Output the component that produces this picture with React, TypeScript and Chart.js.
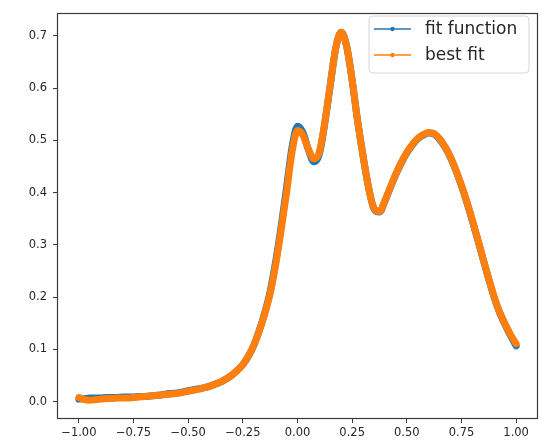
import React, { useEffect, useRef } from "react";
import { Chart, registerables } from "chart.js";

Chart.register(...registerables);

const xValues = [
  -1.0, -0.975, -0.95, -0.925, -0.9, -0.875, -0.85, -0.825, -0.8, -0.775,
  -0.75, -0.725, -0.7, -0.675, -0.65, -0.625, -0.6, -0.575, -0.55, -0.525,
  -0.5, -0.475, -0.45, -0.425, -0.4, -0.375, -0.35, -0.325, -0.3, -0.275,
  -0.25, -0.225, -0.2, -0.175, -0.15, -0.125, -0.1, -0.075, -0.05, -0.025,
  0.0, 0.025, 0.05, 0.075, 0.1, 0.125, 0.15, 0.175, 0.2, 0.225,
  0.25, 0.275, 0.3, 0.325, 0.35, 0.375, 0.4, 0.425, 0.45, 0.475,
  0.5, 0.525, 0.55, 0.575, 0.6, 0.625, 0.65, 0.675, 0.7, 0.725,
  0.75, 0.775, 0.8, 0.825, 0.85, 0.875, 0.9, 0.925, 0.95, 0.975, 1.0,
];

const fitFunction = [
  0.005, 0.006, 0.007, 0.007, 0.007, 0.008, 0.008, 0.008, 0.009, 0.009,
  0.009, 0.01, 0.01, 0.011, 0.012, 0.013, 0.015, 0.016, 0.017, 0.019,
  0.021, 0.023, 0.025, 0.027, 0.03, 0.034, 0.038, 0.044, 0.051, 0.06,
  0.071, 0.087, 0.108, 0.136, 0.17, 0.211, 0.268, 0.335, 0.41, 0.487,
  0.527, 0.515, 0.482, 0.459, 0.474, 0.533, 0.606, 0.677, 0.707, 0.68,
  0.615, 0.537, 0.47, 0.41, 0.369, 0.363, 0.384, 0.41, 0.435, 0.457,
  0.476, 0.491, 0.503, 0.51, 0.514, 0.512, 0.502, 0.487, 0.467, 0.442,
  0.413, 0.381, 0.346, 0.309, 0.271, 0.234, 0.199, 0.17, 0.147, 0.126, 0.107,
];

const bestFit = [
  0.008, 0.004, 0.003, 0.004, 0.005, 0.006, 0.006, 0.007, 0.007, 0.007,
  0.008, 0.009, 0.01, 0.011, 0.012, 0.013, 0.014, 0.015, 0.016, 0.018,
  0.02, 0.022, 0.024, 0.027, 0.03, 0.034, 0.038, 0.044, 0.051, 0.06,
  0.071, 0.087, 0.108, 0.135, 0.168, 0.207, 0.262, 0.328, 0.4, 0.478,
  0.519, 0.51, 0.483, 0.465, 0.478, 0.535, 0.607, 0.677, 0.707, 0.68,
  0.615, 0.537, 0.47, 0.41, 0.37, 0.364, 0.385, 0.411, 0.436, 0.458,
  0.477, 0.492, 0.504, 0.511, 0.515, 0.513, 0.503, 0.488, 0.468, 0.443,
  0.414, 0.382, 0.347, 0.31, 0.272, 0.235, 0.2, 0.171, 0.148, 0.128, 0.111,
];

const xTicks = [-1.0, -0.75, -0.5, -0.25, 0.0, 0.25, 0.5, 0.75, 1.0];
const yTicks = [0.0, 0.1, 0.2, 0.3, 0.4, 0.5, 0.6, 0.7];

const seriesNames = ["fit function", "best fit"];
const seriesColors = ["#1f77b4", "#ff7f0e"];

const FONT = "'DejaVu Sans', sans-serif";
const TEXT = "#262626";
const SPINE = "#3a3a3a";

const fmt = (v: number, d: number) => {
  const s = Math.abs(v).toFixed(d);
  return v < -1e-9 ? "\u2212" + s : s;
};

const boxPlugin = {
  id: "mplBox",
  afterDraw(chart: any) {
    const { ctx, chartArea } = chart;
    ctx.save();
    ctx.strokeStyle = SPINE;
    ctx.lineWidth = 1.2;
    ctx.strokeRect(
      Math.round(chartArea.left) + 0.5,
      Math.round(chartArea.top) + 0.5,
      Math.round(chartArea.right - chartArea.left) - 1,
      Math.round(chartArea.bottom - chartArea.top) - 1
    );

    // legend
    const bx = 369, by = 16, bw = 160, bh = 57, r = 4;
    ctx.fillStyle = "rgba(255,255,255,0.85)";
    ctx.strokeStyle = "#d6d6d6";
    ctx.lineWidth = 1;
    ctx.beginPath();
    ctx.moveTo(bx + r, by);
    ctx.lineTo(bx + bw - r, by);
    ctx.quadraticCurveTo(bx + bw, by, bx + bw, by + r);
    ctx.lineTo(bx + bw, by + bh - r);
    ctx.quadraticCurveTo(bx + bw, by + bh, bx + bw - r, by + bh);
    ctx.lineTo(bx + r, by + bh);
    ctx.quadraticCurveTo(bx, by + bh, bx, by + bh - r);
    ctx.lineTo(bx, by + r);
    ctx.quadraticCurveTo(bx, by, bx + r, by);
    ctx.closePath();
    ctx.fill();
    ctx.stroke();

    const rowsY = [29, 55];
    ctx.font = `17px ${FONT}`;
    ctx.textBaseline = "middle";
    ctx.textAlign = "left";
    seriesNames.forEach((name, i) => {
      const y = rowsY[i];
      ctx.strokeStyle = seriesColors[i];
      ctx.lineWidth = 1.6;
      ctx.beginPath();
      ctx.moveTo(374, y);
      ctx.lineTo(411, y);
      ctx.stroke();
      ctx.fillStyle = seriesColors[i];
      ctx.beginPath();
      ctx.arc(392.5, y, 2.2, 0, Math.PI * 2);
      ctx.fill();
      ctx.fillStyle = TEXT;
      ctx.fillText(name, 425, y + 1);
    });
    ctx.restore();
  },
};

export default function App() {
  const ref = useRef<HTMLCanvasElement | null>(null);

  useEffect(() => {
    if (!ref.current) return;
    const makeData = (ys: number[]) => xValues.map((x, i) => ({ x, y: ys[i] }));
    const chart = new Chart(ref.current, {
      type: "line",
      data: {
        datasets: [
          {
            label: seriesNames[0],
            data: makeData(fitFunction),
            borderColor: seriesColors[0],
            backgroundColor: seriesColors[0],
            borderWidth: 7,
            pointRadius: 0,
            cubicInterpolationMode: "monotone",
            borderCapStyle: "round",
            borderJoinStyle: "round",
            order: 1,
          },
          {
            label: seriesNames[1],
            data: makeData(bestFit),
            borderColor: seriesColors[1],
            backgroundColor: seriesColors[1],
            borderWidth: 7,
            pointRadius: 0,
            cubicInterpolationMode: "monotone",
            borderCapStyle: "round",
            borderJoinStyle: "round",
            order: 0,
          },
        ],
      },
      options: {
        animation: false,
        responsive: false,
        maintainAspectRatio: false,
        layout: { padding: { top: 7, right: 6, left: 0, bottom: 0 } },
        plugins: {
          legend: { display: false },
          tooltip: { enabled: false },
        },
        scales: {
          x: {
            type: "linear",
            min: -1.1,
            max: 1.1,
            afterBuildTicks: (scale: any) => {
              scale.ticks = xTicks.map((v) => ({ value: v }));
            },
            afterFit: (scale: any) => {
              scale.height = 22;
            },
            grid: {
              display: true,
              drawOnChartArea: false,
              drawTicks: true,
              tickLength: 4,
              color: SPINE,
            },
            border: { display: false },
            ticks: {
              autoSkip: false,
              maxRotation: 0,
              padding: 3,
              color: TEXT,
              font: { family: FONT, size: 11.5 },
              callback: (v: any) => fmt(Number(v), 2),
            },
          },
          y: {
            type: "linear",
            min: -0.033,
            max: 0.744,
            afterBuildTicks: (scale: any) => {
              scale.ticks = yTicks.map((v) => ({ value: v }));
            },
            afterFit: (scale: any) => {
              scale.width = 57;
            },
            grid: {
              display: true,
              drawOnChartArea: false,
              drawTicks: true,
              tickLength: 4,
              color: SPINE,
            },
            border: { display: false },
            ticks: {
              autoSkip: false,
              padding: 6,
              color: TEXT,
              font: { family: FONT, size: 11.5 },
              callback: (v: any) => fmt(Number(v), 1),
            },
          },
        },
      },
      plugins: [boxPlugin],
    });
    return () => chart.destroy();
  }, []);

  return (
    <div style={{ position: "fixed", left: 0, top: 0, width: 544, height: 441, background: "#fff" }}>
      <canvas ref={ref} width={544} height={441} style={{ width: 544, height: 441, display: "block" }} />
    </div>
  );
}
